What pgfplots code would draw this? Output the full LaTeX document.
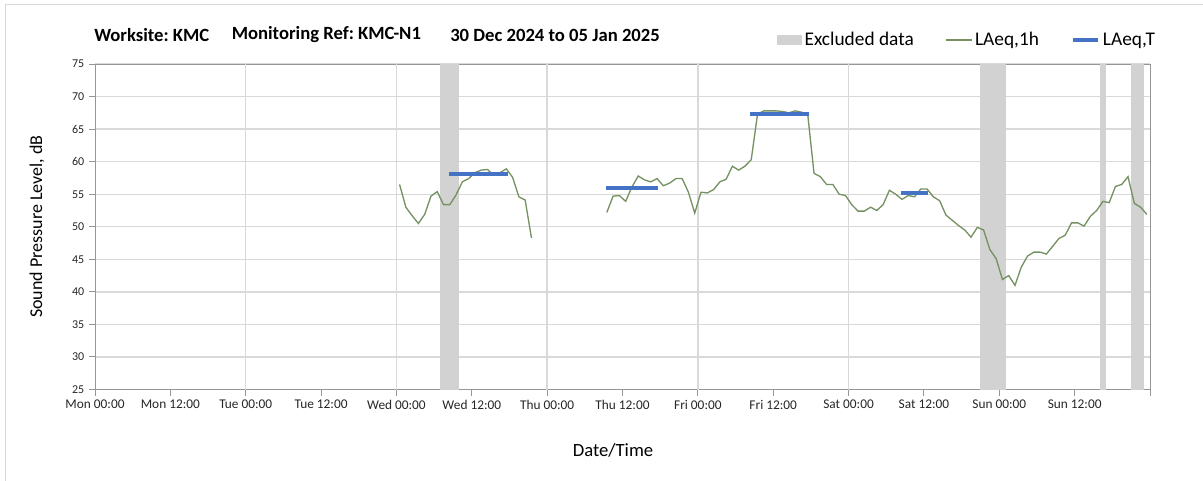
\documentclass[border=0pt]{standalone}
\usepackage{fontspec}
\setmainfont{Carlito}
\usepackage{pgfplots}
\pgfplotsset{compat=1.18}
\usepackage{pgfplotstable}
\frenchspacing
\definecolor{bandgray}{RGB}{210,210,210}
\definecolor{gridgray}{RGB}{217,217,217}
\definecolor{axisgray}{RGB}{150,150,150}
\definecolor{lgreen}{RGB}{118,145,98}
\definecolor{lblue}{RGB}{68,114,196}
\pgfplotsset{
  mylineleg/.style={legend image code/.code={\draw[##1] (0pt,0pt) -- (19pt,0pt);}},
  myarealeg/.style={legend image code/.code={\fill[##1] (0pt,-3.75pt) rectangle (19pt,3.75pt);}},
}
\pgfplotstableread{
h db
48.5 56.5
49.5 53.0
50.5 51.7
51.5 50.5
52.5 51.9
53.5 54.7
54.5 55.4
55.5 53.4
56.5 53.4
57.5 54.9
58.5 56.9
59.5 57.4
60.5 58.3
61.5 58.7
62.5 58.8
63.5 57.9
64.5 58.3
65.5 58.9
66.5 57.6
67.5 54.6
68.5 54.1
69.5 48.3
75 nan
81.5 52.2
82.5 54.7
83.5 54.8
84.5 53.9
85.5 56.1
86.5 57.8
87.5 57.2
88.5 56.9
89.5 57.4
90.5 56.3
91.5 56.7
92.5 57.4
93.5 57.4
94.5 55.3
95.5 52.1
96.5 55.3
97.5 55.2
98.5 55.7
99.5 56.9
100.5 57.3
101.5 59.3
102.5 58.7
103.5 59.3
104.5 60.3
105.5 67.3
106.5 67.8
107.5 67.8
108.5 67.8
109.5 67.7
110.5 67.5
111.5 67.8
112.5 67.6
113.5 67.2
114.5 58.2
115.5 57.7
116.5 56.5
117.5 56.5
118.5 55.0
119.5 54.8
120.5 53.4
121.5 52.4
122.5 52.4
123.5 53.0
124.5 52.5
125.5 53.4
126.5 55.6
127.5 55.0
128.5 54.2
129.5 54.8
130.5 54.6
131.5 55.8
132.5 55.8
133.5 54.6
134.5 54.0
135.5 51.8
136.5 51.0
137.5 50.2
138.5 49.5
139.5 48.4
140.5 49.9
141.5 49.5
142.5 46.5
143.5 45.1
144.5 41.9
145.5 42.5
146.5 41.0
147.5 43.8
148.5 45.5
149.5 46.1
150.5 46.1
151.5 45.8
152.5 47.0
153.5 48.2
154.5 48.7
155.5 50.6
156.5 50.6
157.5 50.1
158.5 51.6
159.5 52.5
160.5 53.9
161.5 53.7
162.5 56.2
163.5 56.5
164.5 57.7
165.5 53.6
166.5 53.0
167.5 51.9
}\laeqhour
\pgfplotstableread{
h db
56.3 58.1
65.7 58.1
70 nan
81.3 56.0
89.7 56.0
95 nan
104.3 67.26
113.7 67.26
120 nan
128.3 55.2
132.7 55.2
}\laeqT
\begin{document}
\begin{tikzpicture}[x=0.75pt,y=-0.75pt]
\path[use as bounding box] (0,0) rectangle (1203,481);
\draw[gridgray,line width=0.75pt] (5,481) -- (5,5) -- (1203,5);
\node[anchor=west,inner sep=0pt,font=\fontsize{14}{16}\selectfont\bfseries] at (94,35) {Worksite: KMC};
\node[anchor=west,inner sep=0pt,font=\fontsize{14}{16}\selectfont\bfseries] at (231.5,35) {Monitoring Ref: KMC-N1};
\node[anchor=west,inner sep=0pt,font=\fontsize{14}{16}\selectfont\bfseries] at (450,35) {30 Dec 2024 to 05 Jan 2025};
\begin{axis}[
  at={(71.25pt,-292.125pt)}, anchor=origin,
  scale only axis, width=791.25pt, height=244.125pt,
  xmin=0, xmax=168, ymin=25, ymax=75,
  axis line style={axisgray, line width=0.75pt},
  xtick={0,12,...,168},
  xticklabels={Mon 00:00,Mon 12:00,Tue 00:00,Tue 12:00,Wed 00:00,Wed 12:00,Thu 00:00,Thu 12:00,Fri 00:00,Fri 12:00,Sat 00:00,Sat 12:00,Sun 00:00,Sun 12:00,},
  ytick={25,30,...,75},
  tick align=outside, major tick length=4.5pt,
  tick style={axisgray, line width=0.75pt},
  xtick pos=bottom, ytick pos=left,
  ymajorgrids, grid style={gridgray, line width=1pt},
  extra x ticks={24,48,72,96,120,144},
  extra x tick labels={},
  extra x tick style={grid=major, major tick length=0pt, xticklabel=\empty},
  /pgf/number format/assume math mode=true,
  xticklabel style={font=\fontsize{10}{12}\selectfont, text=black!85},
  yticklabel style={font=\fontsize{9}{11}\selectfont, text=black!85},
  ylabel={Sound Pressure Level, dB},
  ylabel style={at={(axis description cs:-0.055,0.5)}, anchor=center, font=\fontsize{13.5}{16}\selectfont},
  xlabel={Date/Time},
  xlabel style={at={(axis description cs:0.491,-0.186)}, anchor=center, font=\fontsize{14}{16}\selectfont},
  legend style={at={(axis description cs:1,1)}, anchor=south east, xshift=9pt, yshift=8pt,
    draw=none, fill=none, font=\fontsize{14.5}{16}\selectfont,
    /tikz/every even column/.append style={column sep=22pt},
    nodes={inner xsep=2pt}},
  legend columns=-1,
  unbounded coords=jump,
]
\addplot[fill=bandgray, draw=none, myarealeg] coordinates {(55,25) (55,75) (58,75) (58,25)} -- cycle;
\addlegendentry{Excluded data}
\addplot[fill=bandgray, draw=none, forget plot] coordinates {(141,25) (141,75) (145,75) (145,25)} -- cycle;
\addplot[fill=bandgray, draw=none, forget plot] coordinates {(160,25) (160,75) (161,75) (161,25)} -- cycle;
\addplot[fill=bandgray, draw=none, forget plot] coordinates {(165,25) (165,75) (167,75) (167,25)} -- cycle;
\addplot[lgreen, line width=1pt, no marks, mylineleg] table[x=h,y=db] {\laeqhour};
\addlegendentry{LAeq,1h}
\addplot[lblue, line width=3pt, no marks, mylineleg] table[x=h,y=db] {\laeqT};
\addlegendentry{LAeq,T}
\end{axis}
\end{tikzpicture}
\end{document}
